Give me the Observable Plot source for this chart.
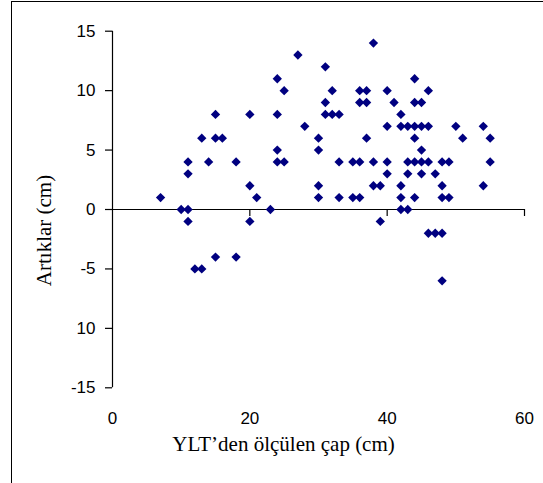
<!DOCTYPE html>
<html><head><meta charset="utf-8">
<script src="https://cdn.jsdelivr.net/npm/d3@7"></script>
<script src="https://cdn.jsdelivr.net/npm/@observablehq/plot@0.6"></script>
<style>
html,body{margin:0;padding:0;background:#fff;overflow:hidden}
#chart{position:relative;width:543px;height:483px;overflow:hidden}
#frame{position:absolute;left:11px;top:1px;width:700px;height:700px;border:1.4px solid #000;pointer-events:none}
</style></head><body><div id="chart"><div id="frame"></div></div>
<script>
const xValues = [7,10,11,11,11,11,12,13,13,14,15,15,16,15,18,18,20,20,20,21,23,24,24,24,24,25,25,27,28,30,30,30,30,31,31,31,32,32,33,33,33,35,35,36,36,36,36,37,37,37,38,38,38,39,39,40,40,40,40,41,42,42,42,42,42,43,43,43,43,44,44,44,44,44,44,45,45,45,45,45,46,46,46,46,47,47,48,48,48,48,48,49,49,50,51,54,54,55,55];
const yValues = [1,0,0,4,3,-1,-5,-5,6,4,8,6,6,-4,4,-4,8,2,-1,1,0,11,8,5,4,10,4,13,7,6,5,2,1,12,9,8,10,8,8,4,1,4,1,10,9,4,1,10,9,6,14,4,2,2,-1,10,7,4,3,9,8,7,2,1,0,7,4,3,0,11,9,7,6,4,1,9,7,5,4,3,10,7,4,-2,3,-2,4,2,1,-2,-6,4,1,7,6,7,2,6,4];
const xTicks = [0,20,40,60];
const yTicks = [-15,-10,-5,0,5,10,15];
const yTickLabels = ["-15","10","-5","0","5","10","15"];
const xTitle = "YLT’den ölçülen çap (cm)";
const yTitle = "Artıklar (cm)";

const points = xValues.map((x,i)=>({x, y:yValues[i]}));
const W=543,H=483, mL=112, mR=19, mT=30.7, mB=95.7;
const midOffset = (H - mT - mB)/2;
const serif = "'Liberation Serif','Times New Roman',serif";
const chart = Plot.plot({
  width: W, height: H, marginLeft: mL, marginRight: mR, marginTop: mT, marginBottom: mB,
  style: {fontFamily: "'Liberation Sans', Arial, sans-serif", fontSize: "17px", color:"#000", background:"transparent"},
  x: {domain:[0,60]}, y: {domain:[-15,15]},
  marks: [
    Plot.ruleX([0], {stroke:"#000", strokeWidth:1.2}),
    Plot.ruleY([0], {stroke:"#000", strokeWidth:1.2}),
    Plot.axisY(yTicks, {anchor:"left", tickSize:7, tickPadding:10, tickFormat: d => yTickLabels[yTicks.indexOf(d)], label:null, strokeWidth:1.2}),
    Plot.axisX(xTicks.slice(1), {anchor:"bottom", tickSize:7, dy:-midOffset, tickFormat:()=>"", label:null, strokeWidth:1.2}),
    Plot.axisX(xTicks, {anchor:"bottom", tickSize:0, tickPadding:24, label:null}),
    Plot.dot(points, {x:"x", y:"y", symbol:"diamond2", r:4.2, fill:"#000080"}),
    Plot.text([yTitle], {frameAnchor:"left", textAnchor:"middle", rotate:-90, dx:-68, dy:21, fontFamily:serif, fontSize:21}),
    Plot.text([xTitle], {frameAnchor:"bottom", textAnchor:"middle", dx:-35, dy:63, fontFamily:serif, fontSize:21})
  ]
});
document.getElementById("chart").appendChild(chart);
chart.style.position="absolute"; chart.style.left="0"; chart.style.top="0";
</script></body></html>
